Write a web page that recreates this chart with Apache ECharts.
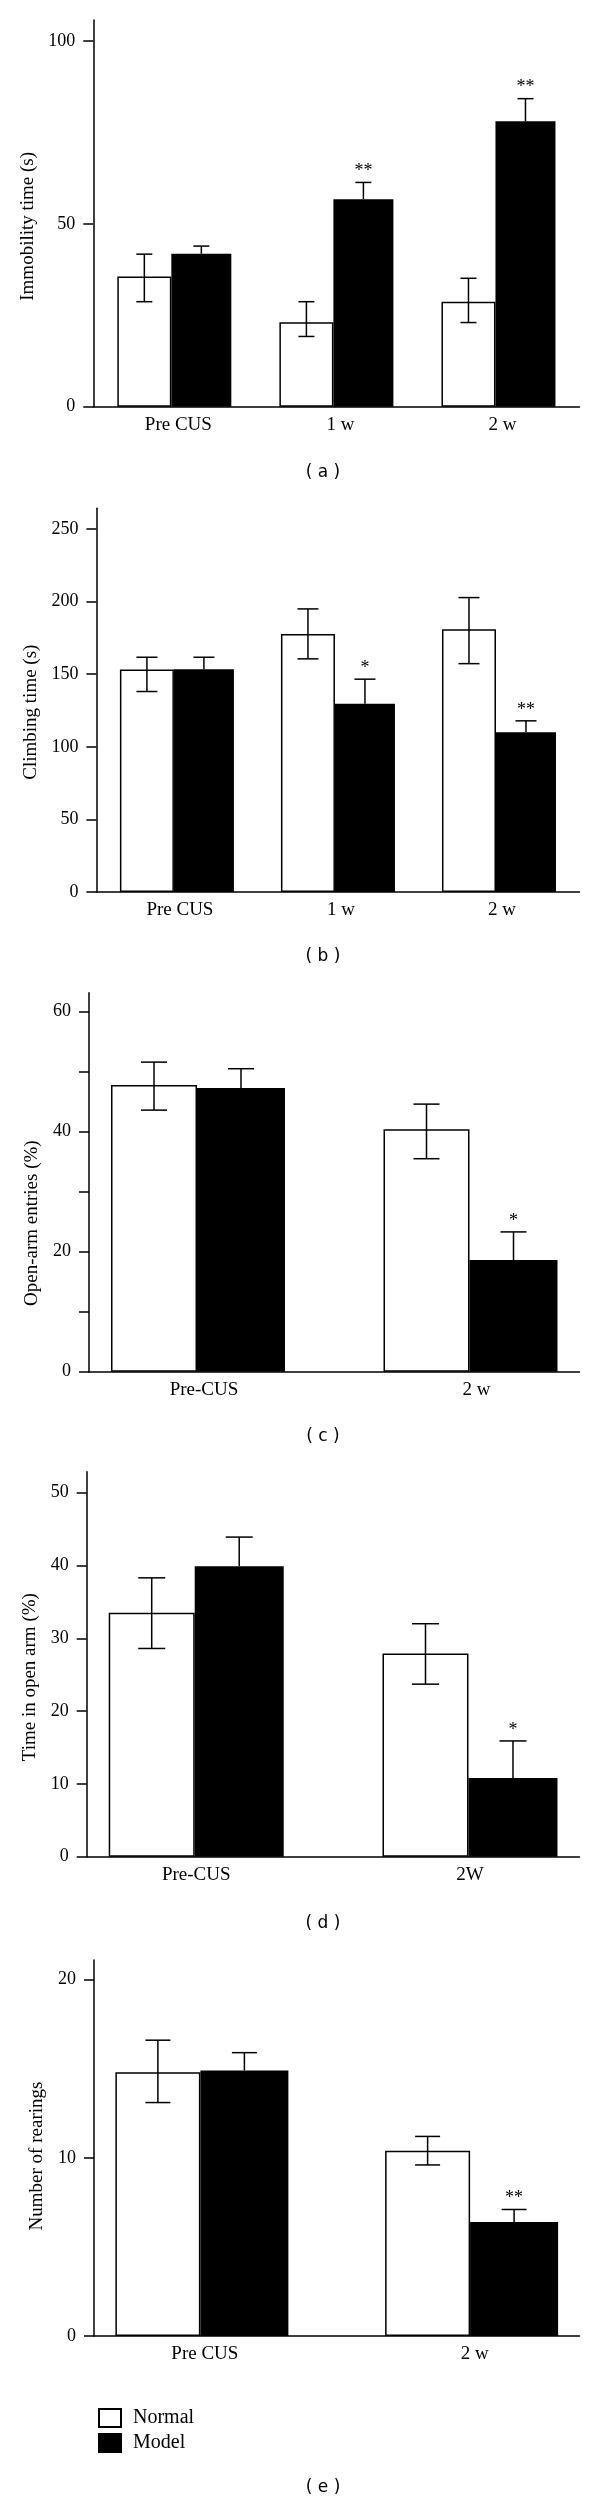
<!DOCTYPE html>
<html><head><meta charset="utf-8">
<script src="https://cdn.jsdelivr.net/npm/echarts@6/dist/echarts.min.js"></script>
<style>html,body{margin:0;padding:0;background:#fff}#c{width:600px;height:2505px}</style>
</head><body><div id="c"></div>
<script>
// ---------- DATA ----------
const seriesNames = ['Normal', 'Model'];

// (a) Forced swim: immobility
const catsA = ['Pre CUS', '1 w', '2 w'];
const normalA = [35.6, 23.1, 28.7];
const normalHiA = [41.7, 28.7, 35.1];
const normalLoA = [28.7, 19.2, 23.0];
const modelA = [41.8, 56.7, 78.0];
const modelHiA = [43.9, 61.3, 84.2];
const sigA = ['', '**', '**'];
const yNameA = 'Immobility time (s)';
const yTicksA = [0, 50, 100];
const yLabelsA = [0, 50, 100];

// (b) Climbing time
const catsB = ['Pre CUS', '1 w', '2 w'];
const normalB = [153.2, 177.8, 181.0];
const normalHiB = [161.7, 195.0, 202.8];
const normalLoB = [138.1, 160.6, 157.3];
const modelB = [153.4, 129.6, 110.1];
const modelHiB = [161.7, 146.6, 117.9];
const sigB = ['', '*', '**'];
const yNameB = 'Climbing time (s)';
const yTicksB = [0, 50, 100, 150, 200, 250];
const yLabelsB = [0, 50, 100, 150, 200, 250];

// (c) Open-arm entries
const catsC = ['Pre-CUS', '2 w'];
const normalC = [47.8, 40.4];
const normalHiC = [51.6, 44.6];
const normalLoC = [43.6, 35.5];
const modelC = [47.3, 18.6];
const modelHiC = [50.5, 23.3];
const sigC = ['', '*'];
const yNameC = 'Open-arm entries (%)';
const yTicksC = [0, 10, 20, 30, 40, 50, 60];
const yLabelsC = [0, 20, 40, 60];

// (d) Time in open arm
const catsD = ['Pre-CUS', '2W'];
const normalD = [33.5, 27.9];
const normalHiD = [38.3, 32.0];
const normalLoD = [28.6, 23.7];
const modelD = [39.9, 10.8];
const modelHiD = [43.9, 15.9];
const sigD = ['', '*'];
const yNameD = 'Time in open arm (%)';
const yTicksD = [0, 10, 20, 30, 40, 50];
const yLabelsD = [0, 10, 20, 30, 40, 50];

// (e) Rearings
const catsE = ['Pre CUS', '2 w'];
const normalE = [14.8, 10.4];
const normalHiE = [16.6, 11.2];
const normalLoE = [13.1, 9.6];
const modelE = [14.9, 6.4];
const modelHiE = [15.9, 7.1];
const sigE = ['', '**'];
const yNameE = 'Number of rearings';
const yTicksE = [0, 10, 20];
const yLabelsE = [0, 10, 20];

const captions = ['( a )', '( b )', '( c )', '( d )', '( e )'];

// ---------- LAYOUT / STYLE ----------
const SERIF = '"Liberation Serif", "Times New Roman", serif';
const RIGHT = 579.5;
const panels = [
  {cats: catsA, n: normalA, nHi: normalHiA, nLo: normalLoA, m: modelA, mHi: modelHiA, sig: sigA, yName: yNameA, ticks: yTicksA, labels: yLabelsA,
   left: 93.3, top: 20, zero: 406.7, ymax: 105.7, pad: 0.5, wN: 54, wM: 60, cap: 16, shift: 13, capY: 473, lblPad: 8},
  {cats: catsB, n: normalB, nHi: normalHiB, nLo: normalLoB, m: modelB, mHi: modelHiB, sig: sigB, yName: yNameB, ticks: yTicksB, labels: yLabelsB,
   left: 96.4, top: 508.3, zero: 892, ymax: 264.3, pad: 0.5, wN: 54, wM: 60, cap: 21, shift: 12, capY: 957, lblPad: 6},
  {cats: catsC, n: normalC, nHi: normalHiC, nLo: normalLoC, m: modelC, mHi: modelHiC, sig: sigC, yName: yNameC, ticks: yTicksC, labels: yLabelsC,
   left: 89, top: 992.7, zero: 1371.7, ymax: 63.17, pad: 0.4, wN: 86, wM: 88, cap: 26, shift: 41, capY: 1437, lblPad: 12},
  {cats: catsD, n: normalD, nHi: normalHiD, nLo: normalLoD, m: modelD, mHi: modelHiD, sig: sigD, yName: yNameD, ticks: yTicksD, labels: yLabelsD,
   left: 86.7, top: 1471.7, zero: 1856.7, ymax: 52.88, pad: 0.4, wN: 86, wM: 89, cap: 27, shift: 13, capY: 1924, lblPad: 0},
  {cats: catsE, n: normalE, nHi: normalHiE, nLo: normalLoE, m: modelE, mHi: modelHiE, sig: sigE, yName: yNameE, ticks: yTicksE, labels: yLabelsE,
   left: 94, top: 1960, zero: 2336, ymax: 21.1, pad: 0.4, wN: 85, wM: 88, cap: 25, shift: 8, capY: 2488, lblPad: 6}
];

const LW = 1.5;
function makeErr(offset, capW, withLow, sig) {
  return function (params, api) {
    const x = api.value(0), lo = api.value(1), hi = api.value(2);
    const pHi = api.coord([x, hi]);
    const pLo = api.coord([x, lo]);
    const cx = pHi[0] + offset;
    const st = {stroke: '#000', lineWidth: LW};
    const children = [
      {type: 'line', shape: {x1: cx, y1: pLo[1], x2: cx, y2: pHi[1]}, style: st},
      {type: 'line', shape: {x1: cx - capW / 2, y1: pHi[1], x2: cx + capW / 2, y2: pHi[1]}, style: st}
    ];
    if (withLow) {
      children.push({type: 'line', shape: {x1: cx - capW / 2, y1: pLo[1], x2: cx + capW / 2, y2: pLo[1]}, style: st});
    }
    if (sig && sig[params.dataIndex]) {
      children.push({type: 'text', style: {text: sig[params.dataIndex], x: cx, y: pHi[1] - 2,
        align: 'center', verticalAlign: 'bottom', font: '18px ' + SERIF, fill: '#000'}});
    }
    return {type: 'group', children: children};
  };
}

const grid = [], xAxis = [], yAxis = [], series = [], graphic = [];
panels.forEach((p, i) => {
  const nCat = p.cats.length;
  grid.push({left: p.left, top: p.top, width: RIGHT - p.left, height: p.zero - p.top, containLabel: false});
  xAxis.push({
    type: 'value', gridIndex: i, min: -p.pad, max: nCat - 1 + p.pad,
    axisLine: {show: true, onZero: false, lineStyle: {color: '#000', width: LW}},
    axisTick: {show: false}, splitLine: {show: false},
    axisLabel: {customValues: p.cats.map((_, k) => k), formatter: v => p.cats[Math.round(v)],
      margin: 9, color: '#000', fontFamily: SERIF, fontSize: 19, padding: [0, 0, 0, p.lblPad]}
  });
  yAxis.push({
    type: 'value', gridIndex: i, min: 0, max: p.ymax,
    axisLine: {show: true, onZero: false, lineStyle: {color: '#000', width: LW}},
    axisTick: {show: true, length: 10, customValues: p.ticks, lineStyle: {color: '#000', width: LW}},
    axisLabel: {customValues: p.labels, margin: 18, color: '#000', fontFamily: SERIF, fontSize: 18},
    splitLine: {show: false},
    name: p.yName, nameLocation: 'middle', nameRotate: 90, nameGap: 47,
    nameTextStyle: {fontFamily: SERIF, fontSize: 19, color: '#000', padding: [0, 2 * p.shift, 0, 0]}
  });
  series.push({
    type: 'bar', name: seriesNames[0], xAxisIndex: i, yAxisIndex: i,
    data: p.n.map((v, k) => [k, v]), barWidth: p.wN, barGap: '0%',
    itemStyle: {color: '#fff', borderColor: '#000', borderWidth: LW}, z: 2
  });
  series.push({
    type: 'bar', name: seriesNames[1], xAxisIndex: i, yAxisIndex: i,
    data: p.m.map((v, k) => [k, v]), barWidth: p.wM, barGap: '0%',
    itemStyle: {color: '#000', borderColor: '#000', borderWidth: LW}, z: 2
  });
  series.push({
    type: 'custom', name: 'errN' + i, xAxisIndex: i, yAxisIndex: i, z: 5,
    data: p.n.map((v, k) => [k, p.nLo[k], p.nHi[k]]),
    renderItem: makeErr(-p.wM / 2, p.cap, true, null)
  });
  series.push({
    type: 'custom', name: 'errM' + i, xAxisIndex: i, yAxisIndex: i, z: 5,
    data: p.m.map((v, k) => [k, v, p.mHi[k]]),
    renderItem: makeErr(p.wN / 2, p.cap, false, p.sig)
  });
  graphic.push({type: 'text', x: 323, y: p.capY,
    style: {text: captions[i], font: '17px "DejaVu Sans", sans-serif', fill: '#000', align: 'center', verticalAlign: 'middle'}});
});

const chart = echarts.init(document.getElementById('c'), null, {renderer: 'canvas'});
chart.setOption({
  animation: false,
  backgroundColor: '#fff',
  grid, xAxis, yAxis, series, graphic,
  legend: {
    data: seriesNames, orient: 'vertical', left: 93, top: 2403, icon: 'rect',
    itemWidth: 22, itemHeight: 18, itemGap: 5, selectedMode: false,
    textStyle: {fontFamily: SERIF, fontSize: 20, color: '#000', padding: [0, 0, 0, 7]}
  }
});
</script>
</body></html>
